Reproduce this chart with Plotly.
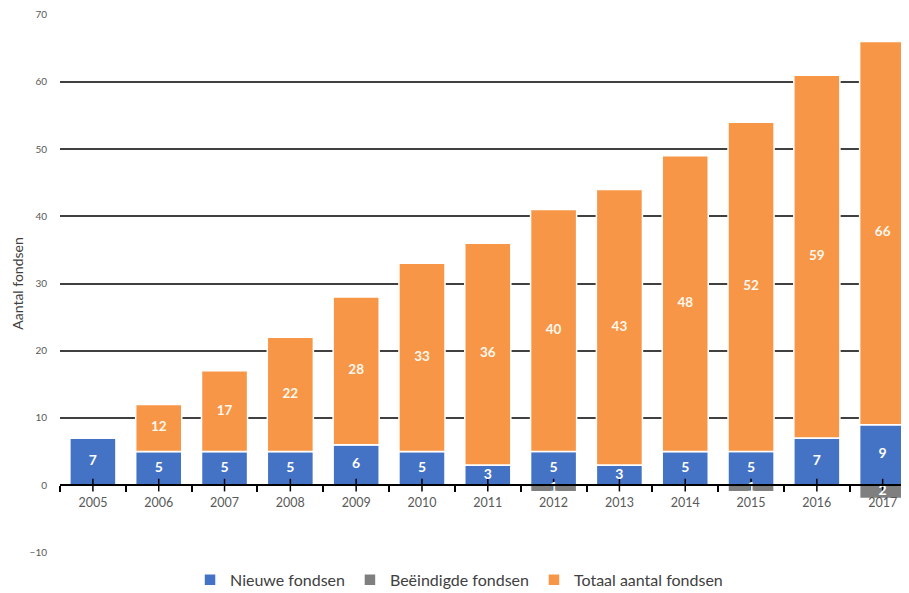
import plotly.graph_objects as go

jaren = ["2005", "2006", "2007", "2008", "2009", "2010", "2011",
         "2012", "2013", "2014", "2015", "2016", "2017"]
nieuwe_fondsen = [7, 5, 5, 5, 6, 5, 3, 5, 3, 5, 5, 7, 9]
beeindigde_fondsen = [0, 0, 0, 0, 0, 0, 0, -1, 0, 0, -1, 0, -2]
# labels printed on the orange bars
totaal_label = [7, 12, 17, 22, 28, 33, 36, 40, 43, 48, 52, 59, 66]
# top of the orange bars as drawn in the picture
totaal_hoogte = [7, 12, 17, 22, 28, 33, 36, 41, 44, 49, 54, 61, 66]

oranje_segment = [h - n for h, n in zip(totaal_hoogte, nieuwe_fondsen)]

FONT = "Lato, 'Open Sans', sans-serif"
BLUE = "#4472C4"
GREY = "#7F7F7F"
ORANGE = "#F79646"
EDGE = dict(color="white", width=1.5)

fig = go.Figure()
fig.add_trace(go.Bar(name="Nieuwe fondsen", x=jaren, y=nieuwe_fondsen,
                     marker=dict(color=BLUE, line=EDGE), textposition="none",
                     hoverinfo="skip"))
fig.add_trace(go.Bar(name="Beëindigde fondsen", x=jaren, y=beeindigde_fondsen,
                     marker=dict(color=GREY, line=EDGE), textposition="none",
                     hoverinfo="skip"))
fig.add_trace(go.Bar(name="Totaal aantal fondsen", x=jaren, y=oranje_segment,
                     marker=dict(color=ORANGE, line=EDGE), textposition="none",
                     hoverinfo="skip"))

# small ticks at category centres on the zero line
fig.add_trace(go.Scatter(x=jaren, y=[0] * len(jaren), mode="markers",
                         marker=dict(symbol="line-ns", size=9,
                                     line=dict(color="black", width=1.5)),
                         showlegend=False, hoverinfo="skip"))

# value labels, placed in the middle of each segment
fig.add_trace(go.Scatter(
    x=jaren, y=[n / 2 for n in nieuwe_fondsen], mode="text",
    text=[str(v) for v in nieuwe_fondsen],
    textfont=dict(color="white", size=14, family=FONT, weight="bold"),
    showlegend=False, hoverinfo="skip"))
bx = [j for j, b in zip(jaren, beeindigde_fondsen) if b != 0]
by = [b / 2 for b in beeindigde_fondsen if b != 0]
bt = [str(-b) for b in beeindigde_fondsen if b != 0]
fig.add_trace(go.Scatter(
    x=bx, y=by, mode="text", text=bt,
    textfont=dict(color="white", size=14, family=FONT, weight="bold"),
    showlegend=False, hoverinfo="skip"))
ox = [j for j, s in zip(jaren, oranje_segment) if s > 0]
oy = [n + s / 2 for n, s in zip(nieuwe_fondsen, oranje_segment) if s > 0]
ot = [str(t) for t, s in zip(totaal_label, oranje_segment) if s > 0]
fig.add_trace(go.Scatter(
    x=ox, y=oy, mode="text", text=ot,
    textfont=dict(color="#FFF8EE", size=13.5, family=FONT, weight="bold"),
    showlegend=False, hoverinfo="skip"))

fig.update_layout(
    width=901, height=585,
    barmode="relative", bargap=0.3,
    plot_bgcolor="white", paper_bgcolor="white",
    margin=dict(l=52, r=0, t=6, b=40, autoexpand=False),
    font=dict(family=FONT, color="#595959"),
    showlegend=True,
    legend=dict(orientation="h", x=0.47, xanchor="center", y=-0.05,
                yanchor="middle", font=dict(size=16, color="#404040"),
                traceorder="normal", itemwidth=30),
    xaxis=dict(
        range=[-0.5, 12.4], anchor="free", position=0.1259,
        showline=True, linecolor="black", linewidth=2,
        ticks="outside", tickson="boundaries", ticklen=6,
        tickcolor="black", tickwidth=1.5, ticklabelstandoff=6,
        tickfont=dict(size=12.5, color="#595959"),
        showgrid=False, zeroline=False,
    ),
    yaxis=dict(
        range=[-10.1, 70.1], tickvals=[-10, 0, 10, 20, 30, 40, 50, 60, 70],
        domain=[0, 1],
        showgrid=True, gridcolor="#404040", gridwidth=2,
        zeroline=True, zerolinecolor="black", zerolinewidth=2,
        tickfont=dict(size=10, color="#595959"),
        ticklabelstandoff=12,
        title=dict(text="Aantal fondsen", font=dict(size=14, color="#404040"),
                   standoff=2),
    ),
)

fig.write_html("out.html")
